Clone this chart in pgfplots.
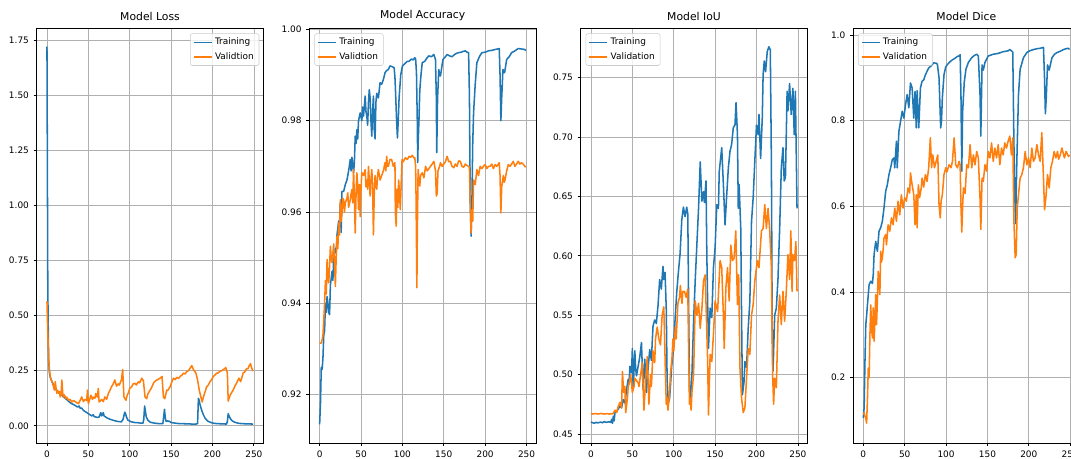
\documentclass[border=0pt]{standalone}
\usepackage{pgfplots}
\pgfplotsset{compat=1.18}
\usepackage{fontspec}
\setmainfont{DejaVu Sans}
\definecolor{C0}{HTML}{1F77B4}
\definecolor{C1}{HTML}{FF7F0E}
\definecolor{gridgray}{HTML}{B0B0B0}

\pgfplotsset{
  mpl/.style={
    scale only axis, width=170pt, height=311.25pt,
    anchor=south west,
    xmin=-12.45, xmax=261.45,
    xtick={0,50,100,150,200,250},
    grid=major,
    major grid style={color=gridgray, line width=0.5pt},
    axis line style={line width=0.55pt},
    tick align=outside, major tick length=2.3pt,
    tick style={black, line width=0.55pt},
    tick pos=left,
    scaled ticks=false,
    ticklabel style={font=\fontsize{6.7}{8}\selectfont},
    /pgf/number format/assume math mode=true,
    yticklabel style={/pgf/number format/.cd, fixed, fixed zerofill, precision=2},
    title style={font=\fontsize{8.1}{9.7}\selectfont, yshift=-4.2pt},
    legend cell align=left,
    legend image code/.code={\draw[#1] (0pt,0pt) -- (13.4pt,0pt);},
    legend style={draw=black!20, fill=white, fill opacity=0.8, text opacity=1,
      rounded corners=1.6pt, font=\fontsize{6.7}{8}\selectfont,
      inner xsep=2pt, inner ysep=1.2pt, row sep=0.3pt},
    every axis plot/.append style={line width=1.15pt, mark=none, line join=round},
  },
  legUR/.style={legend style={at={(0.982,0.987)}, anchor=north east}},
  legUL/.style={legend style={at={(0.022,0.987)}, anchor=north west}},
}

\begin{document}
\begin{tikzpicture}

% ---------------- Loss ----------------
\begin{axis}[mpl, legUR, at={(27.5pt,11.25pt)}, title={Model Loss},
  ymin=-0.078, ymax=1.805, ytick={0,0.25,0.5,0.75,1,1.25,1.5,1.75}]
\addplot[C0] coordinates {
(0,1.72)(1,0.62)(2,0.30)(3,0.24)(4,0.22)(6,0.20)(8,0.185)(10,0.17)(12,0.16)(14,0.15)(16,0.145)(18,0.14)(20,0.13)(22,0.125)(25,0.115)(28,0.105)(30,0.10)(33,0.095)(35,0.09)(37,0.085)(39,0.09)(40,0.08)(42,0.08)(44,0.07)(46,0.065)(48,0.06)(50,0.055)(52,0.05)(54,0.045)(56,0.05)(57,0.042)(59,0.04)(61,0.038)(63,0.04)(65,0.06)(66,0.045)(67,0.05)(68,0.06)(69,0.045)(71,0.04)(73,0.035)(76,0.03)(80,0.025)(85,0.02)(90,0.018)(92,0.03)(94,0.062)(95,0.055)(96,0.04)(98,0.025)(102,0.018)(106,0.015)(110,0.014)(114,0.012)(116,0.012)(117,0.03)(118,0.09)(119,0.065)(120,0.04)(122,0.025)(125,0.016)(130,0.012)(135,0.01)(140,0.01)(141,0.04)(142,0.075)(143,0.035)(144,0.02)(146,0.022)(148,0.02)(150,0.015)(155,0.012)(160,0.01)(170,0.009)(175,0.008)(180,0.008)(182,0.01)(183,0.125)(184,0.115)(185,0.095)(187,0.07)(189,0.05)(191,0.035)(194,0.022)(198,0.015)(202,0.011)(210,0.009)(217,0.008)(218,0.02)(219,0.055)(220,0.045)(222,0.03)(224,0.022)(227,0.016)(232,0.011)(240,0.009)(249,0.008)
};
\addplot[C1] coordinates {
(0,0.565)(1,0.42)(2,0.31)(3,0.255)(4,0.224)(5,0.21)(7,0.193)(8,0.175)(9,0.162)(10,0.2)(11,0.17)(12,0.147)(13,0.16)(14,0.15)(15,0.155)(16,0.131)(17,0.14)(18,0.208)(19,0.15)(20,0.13)(21,0.14)(23,0.123)(24,0.13)(26,0.116)(28,0.12)(30,0.108)(32,0.115)(34,0.11)(36,0.105)(38,0.1)(40,0.115)(42,0.131)(44,0.11)(46,0.12)(48,0.115)(49,0.162)(50,0.1)(52,0.125)(53,0.139)(55,0.12)(56,0.13)(58,0.125)(59,0.147)(61,0.13)(62,0.17)(63,0.108)(65,0.115)(66,0.12)(68,0.11)(70,0.131)(72,0.12)(74,0.145)(76,0.16)(78,0.177)(80,0.19)(82,0.208)(84,0.18)(86,0.19)(87.5,0.185)(89,0.2)(90,0.208)(91.5,0.255)(93,0.131)(95.5,0.116)(97,0.14)(98.5,0.15)(100,0.17)(102.4,0.177)(104,0.19)(106.5,0.193)(108,0.185)(110.5,0.2)(112,0.195)(114.5,0.216)(116.5,0.205)(118.5,0.131)(120.5,0.123)(122,0.145)(124.6,0.162)(126,0.17)(128.6,0.193)(130,0.2)(132.7,0.208)(134,0.21)(136.7,0.216)(139,0.224)(140.7,0.131)(142.3,0.123)(144.8,0.162)(146,0.16)(148.8,0.177)(151,0.2)(152.8,0.216)(155,0.21)(156.9,0.22)(159,0.215)(160.9,0.224)(163,0.23)(165,0.239)(167,0.235)(169,0.247)(171,0.25)(173,0.262)(175,0.273)(177,0.255)(179,0.245)(180,0.239)(182,0.208)(184,0.162)(186,0.131)(187.5,0.108)(189,0.13)(191,0.154)(193,0.177)(195,0.185)(197,0.2)(199,0.21)(201,0.224)(203,0.23)(205,0.239)(207,0.24)(209,0.247)(211,0.25)(213,0.255)(215,0.26)(216,0.265)(218,0.239)(219,0.112)(220,0.125)(221.4,0.139)(223,0.15)(225,0.162)(227,0.18)(229,0.193)(232,0.216)(234,0.2)(236,0.225)(237,0.239)(239,0.245)(241,0.258)(243,0.26)(244,0.27)(246,0.282)(247,0.265)(248,0.258)(249,0.248)
};
\legend{Training, Validtion}
\end{axis}

% ---------------- Accuracy ----------------
\begin{axis}[mpl, legUL, at={(232pt,11.25pt)}, title={Model Accuracy},
  ymin=0.9094, ymax=1.0003, ytick={0.92,0.94,0.96,0.98,1.00}]
\addplot[C0] coordinates {
(0,0.9135)(1,0.918)(2,0.926)(3,0.9255)(4,0.928)(5,0.933)(6,0.934)(7,0.940)(8,0.938)(9,0.9415)(10,0.940)(11,0.938)(12,0.9375)(13,0.944)(15,0.947)(16,0.945)(17,0.950)(19,0.952)(20,0.951)(21,0.955)(23,0.958)(24,0.957)(25,0.962)(26,0.9555)(27,0.9645)(29,0.9645)(31,0.966)(33,0.967)(35,0.969)(37,0.9715)(38,0.969)(39,0.972)(41,0.9686)(42,0.971)(43,0.9766)(44,0.975)(45,0.978)(46,0.976)(47,0.980)(49,0.9817)(51,0.980)(52,0.983)(53,0.981)(55,0.9854)(56,0.982)(57,0.981)(58,0.979)(59,0.984)(60,0.9868)(61,0.985)(62,0.980)(63,0.9766)(64,0.982)(65,0.9854)(66,0.978)(67,0.976)(68,0.984)(69,0.986)(71,0.985)(73,0.9883)(75,0.988)(77,0.989)(79,0.9905)(81,0.991)(83,0.9912)(85,0.992)(88,0.9918)(90,0.9916)(91,0.9895)(92,0.985)(93,0.980)(94,0.9762)(95,0.980)(96,0.985)(98,0.990)(100,0.992)(103,0.9925)(106,0.993)(108,0.993)(111,0.9935)(113,0.9933)(115,0.9938)(116,0.9935)(117,0.9905)(118,0.980)(118.5,0.9708)(119,0.975)(120,0.980)(121,0.9865)(122,0.989)(123,0.991)(124,0.9927)(127,0.993)(130,0.9938)(132,0.9942)(135,0.994)(138,0.9945)(140,0.9934)(141,0.985)(141.5,0.973)(142.5,0.985)(144,0.9912)(145,0.990)(146,0.9898)(147,0.991)(149,0.9934)(152,0.994)(154,0.9945)(157,0.9942)(160,0.994)(163,0.9945)(166,0.9948)(168,0.9949)(171,0.995)(174,0.9952)(176,0.9953)(178,0.995)(180,0.9949)(181,0.9854)(182,0.962)(183,0.9547)(184,0.962)(185,0.975)(186,0.9817)(188,0.988)(190,0.9927)(193,0.994)(196,0.9949)(200,0.995)(204,0.9953)(208,0.9954)(212,0.9956)(215,0.9957)(217,0.9958)(218,0.990)(219,0.980)(220,0.985)(221.5,0.9912)(223.5,0.9905)(226,0.9934)(229,0.994)(232,0.9949)(236,0.9953)(240,0.9958)(244,0.9957)(248,0.9956)(249,0.9953)
};
\addplot[C1] coordinates {
(0,0.9313)(1,0.9313)(2,0.9313)(3,0.932)(4,0.933)(5,0.9364)(6,0.940)(7,0.945)(8,0.942)(9,0.9496)(10,0.946)(11,0.9445)(12,0.948)(13,0.9525)(14,0.950)(15,0.9489)(16,0.951)(17,0.953)(18,0.949)(19,0.9437)(20,0.950)(21,0.9547)(22,0.952)(23,0.9576)(24,0.955)(25,0.9627)(26,0.958)(27,0.9598)(28,0.963)(29,0.9627)(30,0.960)(31,0.962)(33,0.963)(34,0.9642)(35,0.961)(37,0.9627)(38,0.964)(39,0.9649)(40,0.962)(41,0.9693)(42,0.963)(43,0.9554)(44,0.964)(45,0.9686)(46,0.966)(47,0.9605)(48,0.966)(49,0.959)(50,0.965)(51,0.9686)(53,0.968)(55,0.9693)(56,0.9655)(57,0.967)(58,0.965)(59,0.970)(60,0.967)(61,0.9635)(62,0.967)(63,0.9693)(64,0.966)(65,0.955)(66,0.964)(67,0.968)(68,0.966)(69,0.965)(70,0.968)(71,0.9693)(73,0.967)(75,0.968)(77,0.969)(79,0.9708)(80,0.969)(81,0.9722)(82,0.970)(83,0.970)(85,0.9715)(87,0.9715)(89,0.970)(91,0.9708)(91.5,0.9598)(92.5,0.9569)(93.5,0.965)(94.5,0.961)(95.5,0.967)(96.5,0.964)(97.5,0.9605)(98.5,0.966)(99.6,0.9715)(101,0.971)(103.6,0.9719)(106,0.9715)(108,0.9722)(110,0.972)(112,0.9724)(114,0.9718)(115,0.9719)(116,0.970)(116.5,0.9635)(117.5,0.9434)(118,0.955)(119,0.9693)(120,0.967)(121,0.9657)(122,0.968)(124,0.9686)(126,0.9675)(128,0.970)(130,0.969)(132,0.9695)(134,0.970)(136,0.9705)(138,0.9711)(140,0.969)(141,0.9635)(142,0.964)(143,0.969)(145,0.970)(146,0.9708)(148,0.970)(150,0.9705)(152,0.971)(154,0.9722)(156,0.971)(158,0.9711)(160,0.970)(162,0.9697)(164,0.9705)(166,0.970)(168,0.9712)(170,0.9711)(172,0.970)(174,0.9698)(176,0.9705)(178,0.9702)(180,0.970)(181,0.9698)(182,0.962)(183,0.9554)(184,0.9605)(185,0.958)(186,0.967)(188,0.966)(190,0.9693)(192,0.968)(194,0.970)(196,0.9695)(198,0.970)(200,0.9704)(202,0.9695)(204,0.970)(206,0.97)(208,0.9705)(210,0.9695)(212,0.9704)(214,0.970)(216,0.9705)(217,0.9708)(218,0.968)(219,0.9598)(220,0.9655)(222,0.968)(223,0.9665)(224,0.967)(226,0.969)(228,0.9704)(230,0.970)(232,0.9705)(234,0.9711)(236,0.970)(238,0.9705)(240,0.9711)(242,0.9705)(244,0.9708)(246,0.9705)(248,0.970)(249,0.9698)
};
\legend{Training, Validtion}
\end{axis}

% ---------------- IoU ----------------
\begin{axis}[mpl, legUL, at={(435.5pt,11.25pt)}, title={Model IoU},
  ymin=0.4424, ymax=0.7918, ytick={0.45,0.50,0.55,0.60,0.65,0.70,0.75}]
\addplot[C0] coordinates {
(0,0.460)(2,0.4595)(4,0.459)(6,0.4598)(8,0.4593)(10,0.4597)(12,0.460)(14,0.4594)(16,0.4605)(18,0.4598)(20,0.460)(22,0.4603)(24,0.4598)(25,0.4623)(26,0.459)(27,0.465)(28,0.461)(29,0.468)(31,0.469)(33,0.471)(35,0.4735)(37,0.472)(39,0.479)(41,0.476)(43,0.4875)(45,0.496)(46,0.492)(47,0.507)(49,0.5015)(50,0.522)(51,0.4875)(53,0.52)(54,0.505)(55,0.499)(57,0.507)(59,0.515)(61,0.527)(63,0.4875)(65,0.513)(67,0.485)(69,0.505)(71,0.521)(73,0.512)(74,0.527)(75,0.541)(77,0.546)(79,0.543)(81,0.558)(83,0.58)(85,0.572)(87,0.591)(88,0.580)(89.5,0.586)(91,0.555)(92,0.496)(93.5,0.476)(95,0.48)(96,0.49)(97.5,0.507)(99.6,0.521)(101.6,0.546)(103.6,0.569)(105.6,0.586)(107.7,0.602)(109.7,0.63)(111.7,0.641)(113.7,0.633)(115.7,0.641)(117,0.635)(118,0.56)(119,0.49)(120,0.478)(122,0.50)(124,0.545)(126,0.58)(128,0.61)(130,0.64)(132,0.679)(134,0.646)(136,0.654)(137,0.645)(139,0.663)(140,0.601)(141,0.56)(142,0.522)(144,0.556)(146,0.548)(148,0.59)(150,0.607)(152,0.643)(154,0.64)(155,0.671)(158,0.691)(160,0.66)(162,0.626)(164,0.651)(166,0.674)(168,0.688)(170,0.694)(172,0.708)(174,0.71)(175.3,0.729)(177,0.702)(178,0.64)(179,0.66)(181,0.623)(182,0.548)(183,0.483)(185,0.494)(186,0.511)(188,0.506)(190,0.539)(192,0.562)(194,0.629)(196,0.649)(198,0.68)(200,0.71)(202,0.702)(203,0.719)(205,0.682)(207,0.716)(208,0.7525)(209.4,0.764)(211,0.755)(213,0.772)(215,0.776)(216.7,0.7735)(218,0.68)(219,0.539)(220,0.503)(222,0.55)(224,0.556)(226,0.581)(228,0.623)(230,0.674)(232,0.691)(233.5,0.663)(235,0.666)(237,0.7385)(238,0.722)(240,0.745)(242,0.719)(244,0.741)(245.6,0.702)(247,0.7385)(249,0.64)
};
\addplot[C1] coordinates {
(0,0.467)(2,0.4668)(4,0.467)(6,0.4672)(8,0.4668)(10,0.467)(12,0.4673)(14,0.467)(16,0.4668)(18,0.467)(20,0.4671)(22,0.4668)(24,0.467)(26,0.467)(27,0.4675)(29,0.47)(31,0.468)(33,0.4735)(35,0.4765)(37,0.472)(38,0.5026)(39.5,0.485)(41,0.49)(42,0.468)(44,0.48)(45,0.49)(47,0.495)(48,0.50)(50,0.485)(52,0.49)(53,0.497)(55,0.495)(57,0.493)(58,0.49)(60,0.50)(62,0.51)(63,0.49)(64,0.47)(66,0.495)(68,0.515)(70,0.475)(72,0.50)(73,0.49)(75,0.52)(77,0.51)(78,0.53)(80,0.54)(82,0.53)(84,0.525)(86,0.55)(88,0.557)(89,0.53)(90,0.50)(91,0.475)(92,0.48)(93,0.47)(95,0.485)(96,0.5)(98,0.515)(99,0.53)(100,0.52)(102,0.54)(103,0.53)(105,0.56)(107,0.565)(108,0.575)(110,0.56)(111,0.57)(113,0.57)(115,0.565)(117,0.572)(118,0.52)(119,0.475)(120,0.48)(121,0.47)(122,0.485)(124,0.50)(126,0.562)(128,0.55)(130,0.56)(132,0.539)(134,0.555)(136,0.579)(138,0.584)(139,0.56)(141,0.511)(142,0.466)(144,0.517)(146,0.511)(148,0.534)(150,0.562)(153,0.553)(156,0.596)(158,0.59)(160,0.55)(161,0.522)(163,0.573)(165,0.59)(167,0.562)(169,0.609)(171,0.596)(173,0.598)(175,0.621)(177,0.559)(178.5,0.584)(180,0.506)(182,0.48)(184,0.468)(186,0.472)(188,0.497)(190,0.522)(192,0.517)(194,0.55)(196,0.559)(198,0.579)(201,0.596)(203,0.59)(206,0.621)(208,0.623)(210,0.643)(212,0.623)(214,0.64)(216,0.621)(218,0.59)(219.5,0.50)(220.7,0.475)(222,0.497)(224,0.489)(226,0.545)(228,0.567)(230,0.542)(232,0.57)(234,0.545)(236,0.57)(238,0.601)(240,0.58)(241.5,0.621)(243,0.57)(244,0.601)(246,0.596)(247.6,0.612)(249,0.57)
};
\legend{Training, Validation}
\end{axis}

% ---------------- Dice ----------------
\begin{axis}[mpl, legUL, at={(639.75pt,11.25pt)}, title={Model Dice},
  ymin=0.0475, ymax=1.0163, ytick={0.2,0.4,0.6,0.8,1.0},
  yticklabel style={/pgf/number format/.cd, fixed, fixed zerofill, precision=1}]
\addplot[C0] coordinates {
(0,0.106)(1,0.13)(2,0.238)(3,0.324)(4,0.345)(5,0.37)(7,0.417)(9,0.425)(11,0.42)(12,0.44)(13,0.487)(15,0.518)(17,0.495)(19,0.542)(21,0.55)(23,0.565)(25,0.596)(27,0.635)(29,0.65)(31,0.674)(33,0.69)(35,0.709)(37,0.713)(38,0.69)(40,0.752)(41,0.69)(43,0.775)(45,0.798)(47,0.822)(49,0.806)(51,0.837)(53,0.861)(55,0.83)(57,0.888)(59,0.876)(61,0.806)(62.5,0.868)(64,0.783)(65,0.87)(67,0.783)(69,0.876)(71,0.892)(73,0.895)(75,0.907)(77,0.915)(79,0.923)(82,0.928)(85,0.935)(88,0.934)(89.5,0.932)(91.5,0.9)(93.5,0.783)(94.5,0.8)(95.5,0.853)(97.5,0.907)(99.5,0.925)(101.6,0.931)(105,0.938)(107.7,0.942)(111,0.946)(113.7,0.95)(115.7,0.951)(117,0.954)(118,0.86)(119,0.682)(120,0.82)(122,0.89)(124,0.92)(127,0.936)(131,0.947)(134,0.952)(137,0.955)(139,0.951)(141,0.862)(142,0.764)(143.5,0.93)(145,0.918)(147,0.936)(151,0.951)(154,0.953)(157,0.955)(160,0.956)(163,0.957)(166,0.959)(169,0.961)(172,0.962)(175,0.963)(177,0.966)(179,0.963)(180.6,0.96)(182,0.745)(183,0.63)(184,0.56)(185.5,0.704)(187.5,0.86)(189.5,0.92)(193.5,0.947)(197.6,0.959)(201,0.963)(205.6,0.966)(210,0.968)(213.7,0.969)(217.7,0.971)(219,0.898)(220,0.816)(221,0.85)(222.6,0.93)(224.6,0.918)(228,0.947)(231,0.955)(234,0.959)(238,0.962)(242,0.966)(245,0.968)(248,0.969)(249,0.966)
};
\addplot[C1] coordinates {
(0,0.114)(1,0.118)(2,0.11)(3,0.105)(4,0.094)(5,0.15)(6,0.222)(7,0.2)(8,0.3)(9,0.37)(10,0.315)(11,0.293)(12,0.363)(13,0.285)(14,0.33)(15,0.394)(16,0.324)(17,0.38)(18,0.448)(19,0.42)(20,0.394)(21,0.495)(22,0.47)(23,0.48)(24,0.5)(25,0.526)(27,0.534)(28,0.51)(30,0.557)(32,0.542)(34,0.573)(36,0.557)(38,0.596)(40,0.565)(42,0.612)(44,0.58)(46,0.627)(48,0.596)(50,0.62)(52,0.612)(54,0.643)(56,0.631)(57,0.678)(59,0.65)(61,0.627)(62.5,0.557)(64,0.627)(65,0.55)(66.5,0.65)(68,0.62)(70,0.643)(71,0.666)(73,0.645)(75,0.674)(77,0.658)(79,0.69)(81,0.76)(82.5,0.69)(84,0.72)(86,0.69)(88,0.705)(90,0.72)(91.5,0.604)(93,0.573)(94,0.612)(95.5,0.627)(97.5,0.674)(99.6,0.69)(101,0.68)(103.6,0.697)(106,0.69)(107.7,0.705)(109.7,0.76)(111.7,0.697)(113.7,0.69)(115.7,0.705)(117,0.697)(118,0.6)(119,0.54)(120,0.6)(121,0.643)(123,0.63)(125,0.697)(127,0.69)(129,0.744)(131,0.69)(133,0.72)(135,0.697)(137,0.728)(139,0.713)(141,0.62)(142,0.546)(143.5,0.666)(145,0.658)(147,0.697)(149,0.682)(151,0.728)(153,0.713)(155,0.748)(157,0.705)(159,0.736)(161,0.713)(163,0.744)(165,0.697)(167,0.736)(169,0.72)(171,0.748)(173,0.736)(175,0.752)(177,0.764)(179,0.72)(180.6,0.76)(182,0.565)(183.5,0.48)(184.7,0.487)(186,0.596)(187.5,0.627)(189.5,0.666)(191.5,0.674)(193.5,0.69)(195.6,0.728)(197.6,0.697)(199.6,0.713)(201.6,0.69)(203.6,0.736)(205.6,0.705)(207.6,0.713)(209.7,0.744)(211.7,0.72)(213.7,0.705)(215.7,0.772)(217.7,0.666)(219,0.592)(220.6,0.62)(222.6,0.674)(224.6,0.643)(226.6,0.69)(228.6,0.705)(230.6,0.728)(232.7,0.713)(234.7,0.728)(236,0.71)(238,0.72)(240,0.736)(243,0.713)(245,0.728)(248,0.716)(249,0.72)
};
\legend{Training, Validation}
\end{axis}

\pgfresetboundingbox
\path[use as bounding box] (0,0) rectangle (803.25pt,343.5pt);
\end{tikzpicture}
\end{document}
